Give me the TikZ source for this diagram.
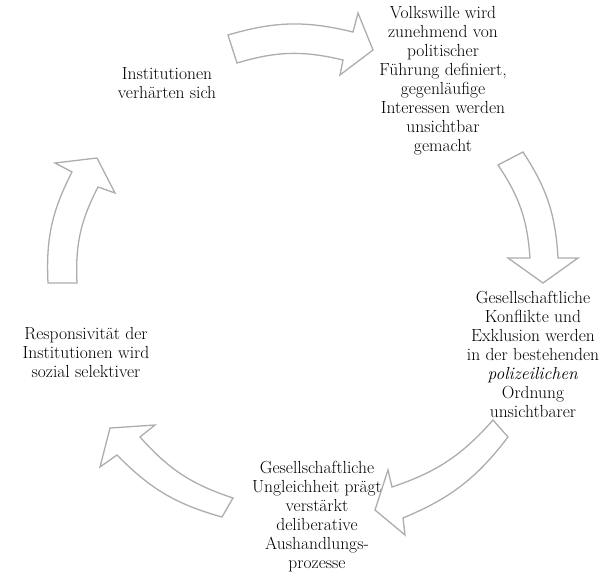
\documentclass[tikz,border=0pt]{standalone}
\usepackage{fontspec}
\usepackage{tikz}
\usetikzlibrary{calc}
\def\zyklustext{\fontsize{17.5}{19}\selectfont}

\begin{document}
\begin{tikzpicture}[x=1pt, y=-1pt,
		pfeil/.style={draw=black!32, fill=white, line width=1.3pt, line join=miter},
		stufe/.style={align=center, inner sep=0pt, font=\zyklustext}]
		%%%%% START %%%%%
		\useasboundingbox (0, 0) rectangle (606, 578);
		
		% oben
		\draw[pfeil] (228, 35) to[bend left=15] (353, 32) -- (358, 13) -- (373, 50) -- (340, 75) -- (343, 60) to[bend right=15] (237, 63) -- cycle;
		% rechts
		\draw[pfeil] (523, 152) to[bend left=15] (558, 258) -- (578, 258) -- (543, 283) -- (508, 258) -- (530, 258) to[bend right=15] (498, 165) -- cycle;
		% rechts unten
		\draw[pfeil] (508, 437) to[bend left=15] (403, 518) -- (405, 535) -- (375, 510) -- (388, 470) -- (392, 487) to[bend right=15] (493, 420) -- cycle;
		% links unten
		\draw[pfeil] (222, 517) to[bend left=15] (117, 455) -- (100, 467) -- (110, 428) -- (155, 425) -- (140, 437) to[bend right=15] (233, 498) -- cycle;
		% links
		\draw[pfeil] (48, 283) to[bend left=15] (72, 172) -- (55, 163) -- (97, 158) -- (115, 193) -- (98, 187) to[bend right=15] (77, 283) -- cycle;
		
		\node[stufe] (institutionen) at (167, 83) {Institutionen\\verhärten sich};
		\node[stufe] (volkswille) at (443, 81) {Volkswille wird\\zunehmend von\\politischer\\Führung definiert,\\gegenläufige\\Interessen werden\\unsichtbar\\gemacht};
		\node[stufe] (konflikte) at (533, 354) {Gesellschaftliche\\Konflikte und\\Exklusion werden\\in der bestehenden\\\textit{polizeilichen}\\Ordnung\\unsichtbarer};
		\node[stufe] (ungleichheit) at (317, 517) {Gesellschaftliche\\Ungleichheit prägt\\verstärkt\\deliberative\\Aushandlungs-\\prozesse};
		\node[stufe] (responsivitaet) at (86, 352) {Responsivität der\\Institutionen wird\\sozial selektiver};
		%%%%% END %%%%%
	\end{tikzpicture}
\end{document}
